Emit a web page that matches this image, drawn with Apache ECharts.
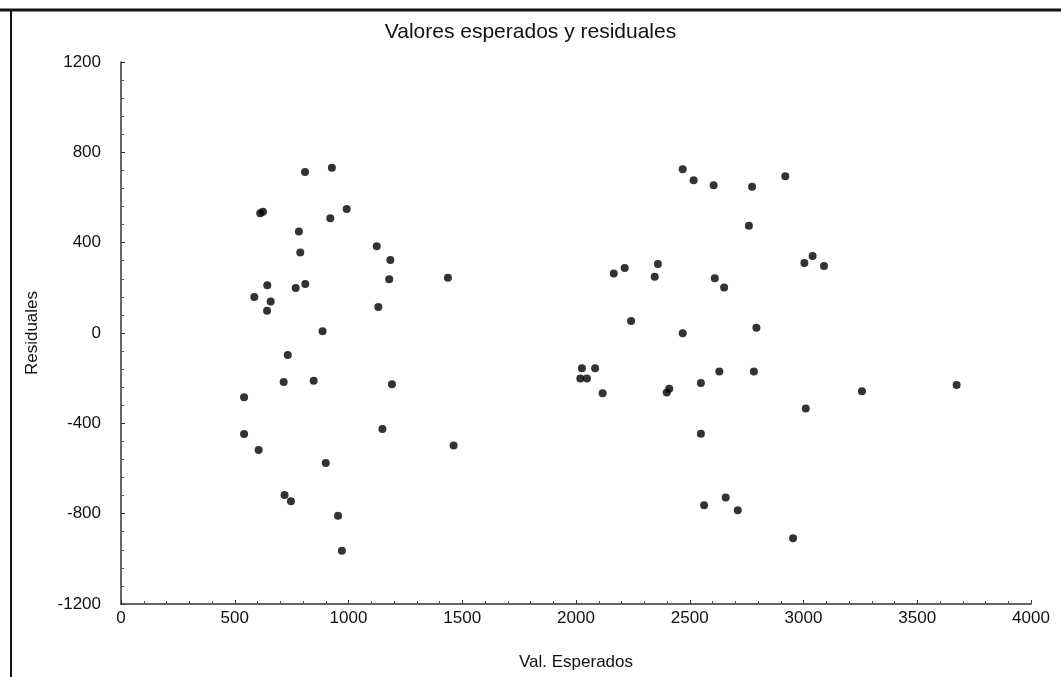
<!DOCTYPE html>
<html>
<head>
<meta charset="utf-8">
<script src="https://cdn.jsdelivr.net/npm/echarts@6/dist/echarts.min.js"></script>
<style>
  html, body { margin: 0; padding: 0; background: #fff; }
  #chart { width: 1061px; height: 677px; }
</style>
</head>
<body>
<div id="chart"></div>
<script>
// valores esperados (eje x) y residuales (eje y)
var esperados = [
  809, 927, 612, 624, 992, 920, 782, 788, 1124, 1184, 1179, 1437,
  643, 586, 658, 642, 768, 810, 1131, 886, 733, 715, 847, 1191,
  541, 1149, 541, 605, 1462, 900, 719, 747, 954, 971,
  2469, 2517, 2605, 2774, 2920, 2760, 3040, 3004, 3090, 2214, 2166, 2360,
  2346, 2610, 2651, 2242, 2469, 2793, 2026, 2084, 2019, 2048, 2117, 2399,
  2410, 2549, 2630, 2782, 3257, 3673, 3010, 2549, 2563, 2658, 2711, 2954
];
var residuales = [
  713, 732, 530, 537, 549, 508, 449, 356, 384, 323, 238, 245,
  211, 159, 139, 99, 199, 217, 115, 8, -97, -217, -211, -227,
  -285, -425, -447, -518, -498, -576, -717, -745, -809, -964,
  725, 676, 654, 648, 694, 475, 341, 310, 297, 288, 263, 306,
  249, 242, 201, 53, -1, 23, -156, -156, -201, -201, -267, -263,
  -247, -221, -170, -170, -258, -230, -334, -446, -763, -728, -785, -909
];
var xTicks = [0, 500, 1000, 1500, 2000, 2500, 3000, 3500, 4000];
var yTicks = [-1200, -800, -400, 0, 400, 800, 1200];

var puntos = esperados.map(function (v, i) { return [v, residuales[i]]; });

var fuente = 'Liberation Sans';
var sinComa = function (v) { return String(v); };
var chart = echarts.init(document.getElementById('chart'));
chart.setOption({
  animation: false,
  backgroundColor: '#fff',
  title: {
    text: 'Valores esperados y residuales',
    left: 'center',
    top: 17,
    textStyle: { color: '#111', fontFamily: fuente, fontSize: 21, fontWeight: 'normal' }
  },
  grid: { left: 121, top: 62, right: 30, bottom: 73 },
  graphic: [
    { type: 'line', shape: { x1: 0, y1: 10, x2: 1061, y2: 10 }, style: { stroke: '#111', lineWidth: 3 } },
    { type: 'line', shape: { x1: 11, y1: 10, x2: 11, y2: 677 }, style: { stroke: '#111', lineWidth: 2 } }
  ],
  xAxis: {
    type: 'value',
    min: xTicks[0],
    max: xTicks[xTicks.length - 1],
    interval: 500,
    name: 'Val. Esperados',
    nameLocation: 'middle',
    nameGap: 50,
    nameTextStyle: { color: '#111', fontFamily: fuente, fontSize: 17 },
    axisLine: { onZero: false, lineStyle: { color: '#333', width: 1.5 } },
    axisTick: { inside: true, length: 4, lineStyle: { color: '#333' } },
    minorTick: { show: true, splitNumber: 5, length: 3, lineStyle: { color: '#555' } },
    axisLabel: { color: '#111', fontFamily: fuente, fontSize: 17, margin: 6, formatter: sinComa },
    splitLine: { show: false }
  },
  yAxis: {
    type: 'value',
    min: yTicks[0],
    max: yTicks[yTicks.length - 1],
    interval: 400,
    name: 'Residuales',
    nameLocation: 'middle',
    nameGap: 80,
    nameTextStyle: { color: '#111', fontFamily: fuente, fontSize: 17 },
    axisLine: { show: true, onZero: false, lineStyle: { color: '#333', width: 1.5 } },
    axisTick: { show: true, inside: true, length: 4, lineStyle: { color: '#333' } },
    minorTick: { show: true, splitNumber: 5, length: 3, lineStyle: { color: '#555' } },
    axisLabel: { color: '#111', fontFamily: fuente, fontSize: 17, margin: 20, formatter: sinComa },
    splitLine: { show: false }
  },
  series: [{
    type: 'scatter',
    data: puntos,
    symbol: 'circle',
    symbolSize: 8,
    itemStyle: { color: '#000' }
  }]
});
</script>
</body>
</html>
